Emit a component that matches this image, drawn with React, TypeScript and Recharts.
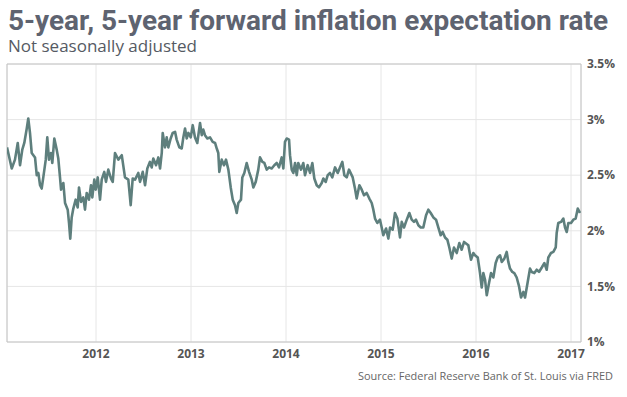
import React from "react";
import { LineChart, Line, XAxis, YAxis, CartesianGrid, ReferenceArea } from "recharts";

const dates: number[] = [
  2011.063, 2011.113, 2011.147, 2011.176, 2011.2, 2011.224, 2011.245, 2011.271, 2011.287, 2011.305,
  2011.323, 2011.358, 2011.376, 2011.393, 2011.411, 2011.428, 2011.445, 2011.471, 2011.487, 2011.505,
  2011.526, 2011.54, 2011.561, 2011.586, 2011.603, 2011.621, 2011.632, 2011.656, 2011.674, 2011.702,
  2011.716, 2011.729, 2011.744, 2011.761, 2011.786, 2011.807, 2011.821, 2011.842, 2011.866, 2011.884,
  2011.902, 2011.926, 2011.947, 2011.961, 2011.982, 2011.997, 2012.018, 2012.042, 2012.06, 2012.087,
  2012.105, 2012.129, 2012.158, 2012.176, 2012.2, 2012.235, 2012.271, 2012.305, 2012.34, 2012.365,
  2012.386, 2012.411, 2012.445, 2012.463, 2012.492, 2012.516, 2012.54, 2012.568, 2012.586, 2012.603,
  2012.632, 2012.656, 2012.674, 2012.692, 2012.702, 2012.726, 2012.744, 2012.761, 2012.786, 2012.807,
  2012.832, 2012.849, 2012.877, 2012.902, 2012.919, 2012.937, 2012.955, 2012.972, 2012.997, 2013.018,
  2013.042, 2013.066, 2013.095, 2013.113, 2013.129, 2013.147, 2013.172, 2013.2, 2013.228, 2013.253,
  2013.271, 2013.287, 2013.298, 2013.323, 2013.347, 2013.368, 2013.393, 2013.418, 2013.439, 2013.463,
  2013.481, 2013.498, 2013.526, 2013.54, 2013.561, 2013.586, 2013.611, 2013.639, 2013.656, 2013.681,
  2013.708, 2013.726, 2013.751, 2013.772, 2013.797, 2013.821, 2013.849, 2013.877, 2013.902, 2013.926,
  2013.955, 2013.972, 2013.989, 2014.007, 2014.032, 2014.042, 2014.06, 2014.077, 2014.095, 2014.113,
  2014.129, 2014.158, 2014.182, 2014.2, 2014.228, 2014.253, 2014.277, 2014.298, 2014.323, 2014.347,
  2014.376, 2014.393, 2014.418, 2014.439, 2014.463, 2014.487, 2014.516, 2014.544, 2014.568, 2014.593,
  2014.614, 2014.639, 2014.663, 2014.702, 2014.726, 2014.744, 2014.772, 2014.797, 2014.821, 2014.849,
  2014.877, 2014.902, 2014.919, 2014.937, 2014.961, 2014.989, 2015.007, 2015.024, 2015.053, 2015.077,
  2015.095, 2015.123, 2015.147, 2015.172, 2015.2, 2015.218, 2015.242, 2015.271, 2015.298, 2015.323,
  2015.347, 2015.368, 2015.393, 2015.418, 2015.445, 2015.474, 2015.498, 2015.523, 2015.551, 2015.579,
  2015.603, 2015.628, 2015.649, 2015.674, 2015.698, 2015.719, 2015.744, 2015.768, 2015.797, 2015.824,
  2015.849, 2015.874, 2015.919, 2015.947, 2015.972, 2015.989, 2016.018, 2016.042, 2016.06, 2016.077,
  2016.095, 2016.113, 2016.137, 2016.158, 2016.182, 2016.207, 2016.228, 2016.253, 2016.271, 2016.298,
  2016.323, 2016.34, 2016.358, 2016.382, 2016.403, 2016.428, 2016.453, 2016.474, 2016.498, 2016.516,
  2016.544, 2016.568, 2016.586, 2016.614, 2016.639, 2016.663, 2016.692, 2016.719, 2016.744, 2016.761,
  2016.789, 2016.814, 2016.839, 2016.849, 2016.866, 2016.895, 2016.919, 2016.937, 2016.955, 2016.972,
  2017.0, 2017.024, 2017.049, 2017.071, 2017.095,
];

const rates: number[] = [
  2.75, 2.56, 2.64, 2.79, 2.59, 2.73, 2.79, 2.92, 3.01, 2.88,
  2.7, 2.66, 2.5, 2.52, 2.41, 2.38, 2.48, 2.64, 2.84, 2.64,
  2.7, 2.61, 2.83, 2.73, 2.65, 2.48, 2.37, 2.43, 2.25, 2.19,
  2.07, 1.93, 2.12, 2.2, 2.28, 2.21, 2.39, 2.26, 2.3, 2.19,
  2.34, 2.28, 2.41, 2.3, 2.46, 2.37, 2.48, 2.28, 2.46, 2.53,
  2.44, 2.55, 2.47, 2.44, 2.7, 2.64, 2.68, 2.48, 2.46, 2.23,
  2.47, 2.46, 2.52, 2.44, 2.53, 2.41, 2.56, 2.62, 2.57, 2.65,
  2.59, 2.66, 2.56, 2.7, 2.88, 2.75, 2.84, 2.75, 2.83, 2.88,
  2.89, 2.82, 2.75, 2.74, 2.84, 2.92, 2.83, 2.88, 2.84, 2.95,
  2.84, 2.79, 2.97, 2.86, 2.91, 2.86, 2.83, 2.84, 2.8, 2.79,
  2.74, 2.7, 2.53, 2.64, 2.59, 2.64, 2.55, 2.39, 2.28, 2.23,
  2.16, 2.25, 2.28, 2.48, 2.52, 2.61, 2.53, 2.46, 2.39, 2.44,
  2.55, 2.66, 2.62, 2.61, 2.55, 2.57, 2.56, 2.59, 2.61, 2.57,
  2.66, 2.56, 2.8, 2.83, 2.82, 2.68, 2.55, 2.52, 2.61, 2.5,
  2.61, 2.55, 2.61, 2.5, 2.59, 2.52, 2.61, 2.47, 2.41, 2.39,
  2.43, 2.47, 2.44, 2.5, 2.52, 2.48, 2.57, 2.52, 2.57, 2.62,
  2.5, 2.48, 2.55, 2.48, 2.38, 2.29, 2.41, 2.37, 2.32, 2.34,
  2.29, 2.25, 2.19, 2.11, 2.07, 2.1, 2.03, 1.96, 2.02, 1.93,
  2.03, 2.01, 2.16, 2.11, 1.94, 2.08, 2.03, 2.1, 2.16, 2.1,
  2.08, 2.1, 2.05, 2.03, 2.03, 2.14, 2.19, 2.16, 2.12, 2.1,
  2.03, 1.96, 1.99, 1.94, 1.92, 1.85, 1.75, 1.85, 1.8, 1.89,
  1.83, 1.9, 1.87, 1.74, 1.8, 1.78, 1.76, 1.62, 1.49, 1.62,
  1.56, 1.42, 1.53, 1.62, 1.58, 1.71, 1.76, 1.78, 1.72, 1.75,
  1.81, 1.72, 1.66, 1.63, 1.62, 1.58, 1.5, 1.4, 1.45, 1.4,
  1.54, 1.66, 1.63, 1.62, 1.65, 1.63, 1.67, 1.71, 1.65, 1.76,
  1.8, 1.81, 1.85, 1.98, 2.07, 2.08, 2.11, 2.03, 1.99, 2.07,
  2.07, 2.1, 2.11, 2.2, 2.16,
];

const xTicks: number[] = [2012, 2013, 2014, 2015, 2016, 2017];
const yTicks: number[] = [1, 1.5, 2, 2.5, 3, 3.5];
const xDomain: [number, number] = [2011.063, 2017.105];
const yDomain: [number, number] = [1, 3.5];

const titleText = "5-year, 5-year forward inflation expectation rate";
const subtitleText = "Not seasonally adjusted";
const sourceText = "Source: Federal Reserve Bank of St. Louis via FRED";

const data = dates.map((t, i) => ({ t, v: rates[i] }));

const tickStyle = { fontFamily: "Open Sans", fontSize: 12, fontWeight: 700, fill: "#555" };

export default function App() {
  return (
    <div style={{ position: "absolute", left: 0, top: 0, width: 627, height: 397, background: "#fff" }}>
      <LineChart width={627} height={397} data={data} margin={{ top: 64, left: 7, right: 0, bottom: 0 }}>
        <CartesianGrid stroke="#e6e6e6" strokeWidth={1} />
        <XAxis
          type="number"
          dataKey="t"
          domain={xDomain}
          ticks={xTicks}
          allowDataOverflow
          axisLine={false}
          tickLine={false}
          tickSize={0}
          tickMargin={7}
          height={55}
          tick={tickStyle}
        />
        <YAxis
          type="number"
          orientation="right"
          domain={yDomain}
          ticks={yTicks}
          allowDataOverflow
          axisLine={false}
          tickLine={false}
          tickSize={0}
          tickMargin={6}
          width={46}
          tick={tickStyle}
          tickFormatter={(v: number) => `${v}%`}
        />
        <ReferenceArea
          x1={xDomain[0]}
          x2={xDomain[1]}
          y1={yDomain[0]}
          y2={yDomain[1]}
          fill="none"
          fillOpacity={0}
          stroke="#c4c4c4"
          strokeWidth={1}
        />
        <Line
          type="linear"
          dataKey="v"
          stroke="#5e7f7d"
          strokeWidth={2.6}
          strokeLinejoin="round"
          dot={false}
          isAnimationActive={false}
        />
      </LineChart>
      <svg width={627} height={397} style={{ position: "absolute", left: 0, top: 0, pointerEvents: "none" }}>
        <text
          x={8}
          y={30}
          fontFamily="Roboto"
          fontWeight={700}
          fontSize={28}
          fill="#5e6370"
          textLength={600}
          lengthAdjust="spacingAndGlyphs"
        >
          {titleText}
        </text>
        <text x={8} y={52} fontFamily="Open Sans" fontSize={16} fill="#555a63" textLength={189} lengthAdjust="spacingAndGlyphs">
          {subtitleText}
        </text>
        <text x={358} y={380} fontFamily="Open Sans" fontSize={11} fill="#666" textLength={255} lengthAdjust="spacingAndGlyphs">
          {sourceText}
        </text>
      </svg>
    </div>
  );
}
